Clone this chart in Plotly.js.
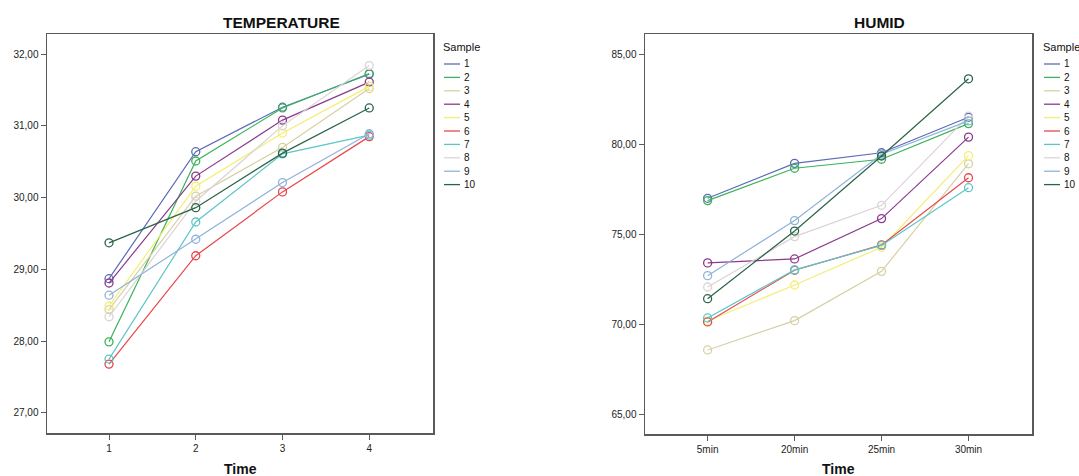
<!DOCTYPE html>
<html>
<head>
<meta charset="utf-8">
<script src="https://cdn.plot.ly/plotly-3.0.1.min.js"></script>
<style>html,body{margin:0;padding:0;background:#fff;}#chart{width:1079px;height:476px;}</style>
</head>
<body>
<div id="chart"></div>
<script>
// ---- data ----
var samples = ['1','2','3','4','5','6','7','8','9','10'];
var colors = ['#5b6bb5','#3cb35a','#d6d1a3','#8a3a8c','#f3ee74','#e8474c','#5cc6c8','#dcd2d8','#8fb3da','#2a6446'];

var tempTime = [1, 2, 3, 4];
var temp1  = [28.87, 30.64, 31.26, 31.72];
var temp2  = [27.99, 30.51, 31.25, 31.73];
var temp3  = [28.44, 30.02, 30.70, 31.52];
var temp4  = [28.81, 30.30, 31.08, 31.61];
var temp5  = [28.49, 30.16, 30.90, 31.55];
var temp6  = [27.68, 29.19, 30.08, 30.85];
var temp7  = [27.75, 29.66, 30.61, 30.87];
var temp8  = [28.34, 29.95, 31.00, 31.84];
var temp9  = [28.64, 29.42, 30.21, 30.89];
var temp10 = [29.37, 29.86, 30.62, 31.25];

var humidTime = ['5min', '20min', '25min', '30min'];
var humid1  = [77.00, 78.94, 79.53, 81.50];
var humid2  = [76.87, 78.67, 79.17, 81.15];
var humid3  = [68.57, 70.20, 72.94, 78.92];
var humid4  = [73.41, 73.63, 75.87, 80.40];
var humid5  = [70.18, 72.18, 74.28, 79.37];
var humid6  = [70.13, 73.00, 74.41, 78.14];
var humid7  = [70.35, 73.02, 74.38, 77.59];
var humid8  = [72.07, 74.87, 76.61, 81.57];
var humid9  = [72.70, 75.76, 79.45, 81.30];
var humid10 = [71.42, 75.18, 79.35, 83.64];

var tempSeries = [temp1,temp2,temp3,temp4,temp5,temp6,temp7,temp8,temp9,temp10];
var humidSeries = [humid1,humid2,humid3,humid4,humid5,humid6,humid7,humid8,humid9,humid10];

// ---- layout helpers ----
var W = 1079, H = 476;
function px(x){ return x / W; }
function py(y){ return 1 - y / H; }

var traces = [];
for (var i = 0; i < samples.length; i++) {
  traces.push({
    x: tempTime, y: tempSeries[i], xaxis: 'x', yaxis: 'y',
    type: 'scatter', mode: 'lines+markers', name: samples[i], showlegend: false,
    line: {color: colors[i], width: 1.2},
    marker: {symbol: 'circle-open', size: 8, color: colors[i], line: {width: 1.3, color: colors[i]}}
  });
  traces.push({
    x: humidTime, y: humidSeries[i], xaxis: 'x2', yaxis: 'y2',
    type: 'scatter', mode: 'lines+markers', name: samples[i], showlegend: false,
    line: {color: colors[i], width: 1.2},
    marker: {symbol: 'circle-open', size: 8, color: colors[i], line: {width: 1.3, color: colors[i]}}
  });
}

var font = {family: 'Liberation Sans, Arial, sans-serif', size: 10, color: '#222'};
var axisCommon = {
  showline: true, mirror: true, linecolor: '#5a5a5a', linewidth: 1.5,
  showgrid: false, zeroline: false, ticks: 'outside', ticklen: 5, tickwidth: 1,
  tickcolor: '#5a5a5a', tickfont: font, automargin: false, fixedrange: true
};

var annotations = [];
var shapes = [];
function addText(x, y, text, size, bold, anchor) {
  annotations.push({
    xref: 'paper', yref: 'paper', x: px(x), y: py(y), text: bold ? '<b>' + text + '</b>' : text,
    showarrow: false, xanchor: anchor || 'center', yanchor: 'middle',
    font: {family: 'Liberation Sans, Arial, sans-serif', size: size, color: '#111'}
  });
}
addText(281, 22, 'TEMPERATURE', 15.5, true);
addText(879, 22, 'HUMID', 15.5, true);
addText(240, 469, 'Time', 14, true);
addText(838, 469, 'Time', 14, true);

function addLegend(x0) {
  addText(x0 - 3, 47, 'Sample', 11, false, 'left');
  for (var i = 0; i < samples.length; i++) {
    var y = 64 + 13.4 * i;
    shapes.push({type: 'line', xref: 'paper', yref: 'paper',
      x0: px(x0), x1: px(x0 + 16), y0: py(y), y1: py(y),
      line: {color: colors[i], width: 1.3}});
    addText(x0 + 18, y, samples[i], 10, false, 'left');
  }
}
addLegend(444);
addLegend(1044);

var layout = {
  width: W, height: H,
  margin: {l: 0, r: 0, t: 0, b: 0},
  paper_bgcolor: '#fff', plot_bgcolor: '#fff',
  separators: ',.',
  showlegend: false,
  font: font,
  xaxis: Object.assign({}, axisCommon, {
    domain: [px(47), px(433)], range: [0.285, 4.735],
    tickvals: tempTime, ticktext: tempTime.map(String), anchor: 'y'
  }),
  yaxis: Object.assign({}, axisCommon, {
    domain: [py(433), py(34)], range: [26.72, 32.28],
    dtick: 1, tickformat: '.2f', anchor: 'x'
  }),
  xaxis2: Object.assign({}, axisCommon, {
    domain: [px(645), px(1032)], range: [-0.72, 3.73],
    type: 'category', categoryarray: humidTime, anchor: 'y2'
  }),
  yaxis2: Object.assign({}, axisCommon, {
    domain: [py(434), py(34)], range: [63.9, 86.13],
    dtick: 5, tickformat: '.2f', anchor: 'x2'
  }),
  annotations: annotations,
  shapes: shapes
};

Plotly.newPlot('chart', traces, layout, {displayModeBar: false, staticPlot: true});
</script>
</body>
</html>
